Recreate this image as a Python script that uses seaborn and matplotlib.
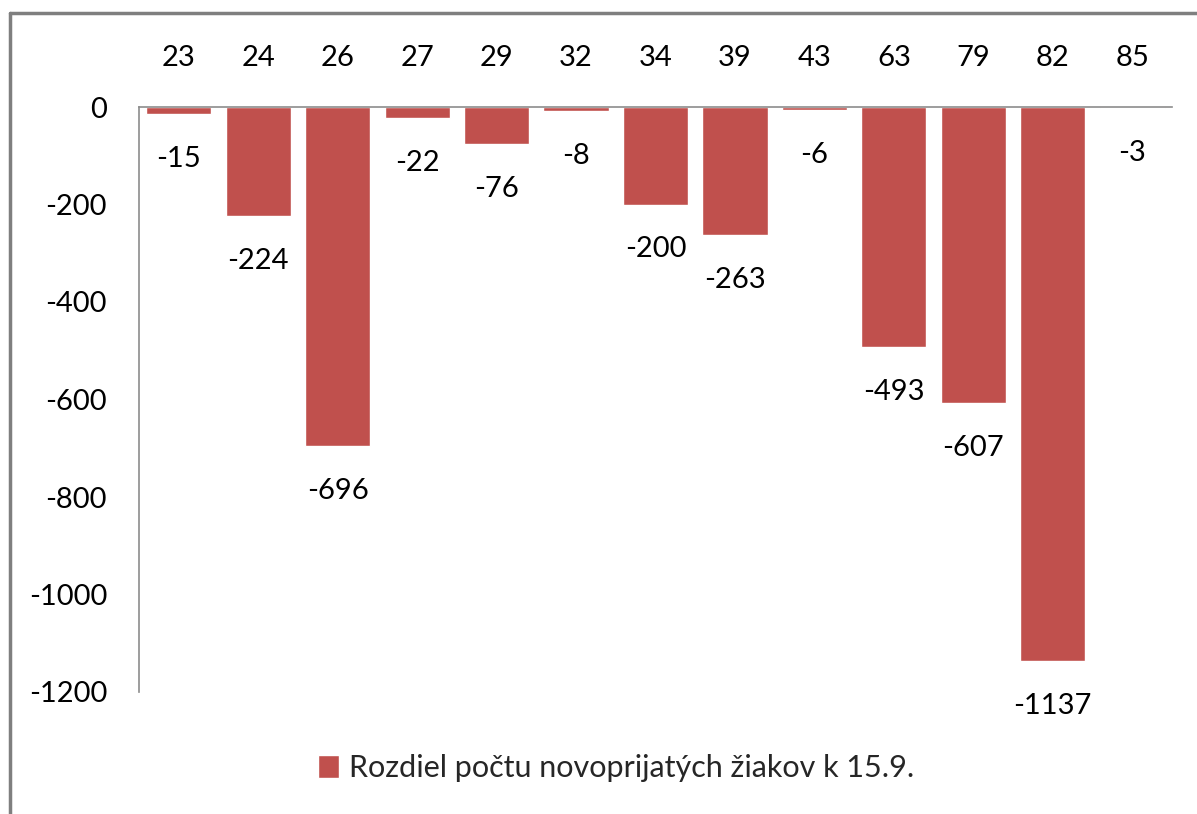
import matplotlib
matplotlib.use("Agg")
import matplotlib.pyplot as plt
import seaborn as sns
import pandas as pd
from matplotlib.lines import Line2D

categories = ["23", "24", "26", "27", "29", "32", "34", "39", "43", "63", "79", "82", "85"]
values = [-15, -224, -696, -22, -76, -8, -200, -263, -6, -493, -607, -1137, -3]
series_name = "Rozdiel počtu novoprijatých žiakov k 15.9."
y_ticks = [0, -200, -400, -600, -800, -1000, -1200]

sns.set_theme(style="white")
plt.rcParams['font.family'] = ['Lato', 'DejaVu Sans']

df = pd.DataFrame({"kat": categories, "val": values})

fig = plt.figure(figsize=(11.97, 8.14), dpi=100)
ax = fig.add_axes([139/1197, 1-692/814, (1172-139)/1197, (692-107)/814])

sns.barplot(data=df, x="kat", y="val", color="#C0504D", width=0.82,
            saturation=1, ax=ax, label=series_name, order=categories)

FS = 21
ax.set_ylim(-1200, 0)
ax.set_xlim(-0.5, len(categories) - 0.5)
ax.set_yticks(y_ticks)
ax.set_yticklabels([str(t) for t in y_ticks], fontsize=FS, color="#000000")
ax.tick_params(axis='y', length=0, pad=23)
ax.xaxis.tick_top()
ax.tick_params(axis='x', length=0, pad=26, labelsize=FS, labelcolor="#000000")
ax.set_xlabel("")
ax.set_ylabel("")

for s in ["right", "bottom"]:
    ax.spines[s].set_visible(False)
for s in ["left", "top"]:
    ax.spines[s].set_color("#8C8C8C")
    ax.spines[s].set_linewidth(1.2)

for c in ax.containers:
    ax.bar_label(c, labels=[str(v) for v in values], padding=23, fontsize=FS, color="#000000")

leg = ax.legend(loc="center", bbox_to_anchor=(616/1197, 1-768/814), bbox_transform=fig.transFigure,
                frameon=False, fontsize=FS + 1, handlelength=0.7, handleheight=0.75, handletextpad=0.3)

# outer frame
fig.add_artist(Line2D([10/1197, 1.0], [1-13/814, 1-13/814], transform=fig.transFigure,
                      color="#7F7F7F", linewidth=2.5))
fig.add_artist(Line2D([10/1197, 10/1197], [1-13/814, 0.0], transform=fig.transFigure,
                      color="#7F7F7F", linewidth=2.5))

fig.savefig("out.png", dpi=100)
